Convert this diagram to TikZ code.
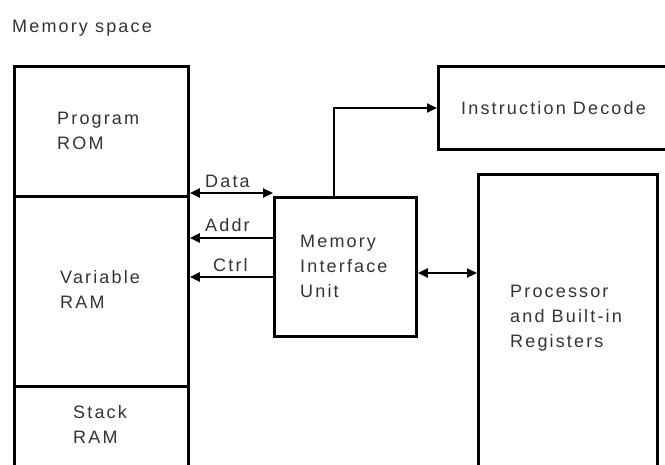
\documentclass[tikz,border=0pt]{standalone}
\usepackage{fontspec}
\setmainfont{Liberation Sans}[LetterSpace=12]
\usetikzlibrary{arrows.meta}
\definecolor{txt}{RGB}{50,50,55}
\tikzset{
  box/.style={draw=black, line width=2.8pt, fill=none, inner sep=0pt, anchor=north west},
  lbl/.style={text=txt, inner sep=0pt, align=left, anchor=west, font=\fontsize{18}{25}\selectfont},
  conn/.style={draw=black, line width=2.2pt, arrows={-Triangle[length=10pt,width=9pt]}},
  conn2/.style={draw=black, line width=2.2pt, arrows={Triangle[length=10pt,width=9pt]-Triangle[length=10pt,width=9pt]}}
}
\begin{document}
\begin{tikzpicture}[x=1pt,y=-1pt]
\useasboundingbox (0,0) rectangle (665,464);
\clip (0,0) rectangle (665,464);
% memory column
\node[box, minimum width=174pt, minimum height=130pt] (rom) at (13,65) {};
\node[box, minimum width=174pt, minimum height=190pt] (var) at (13,195) {};
\node[box, minimum width=174pt, minimum height=120pt] (stk) at (13,385) {};
% memory interface unit
\node[box, minimum width=142pt, minimum height=139pt] (miu) at (273,196) {};
% instruction decode
\node[box, minimum width=260pt, minimum height=83pt] (id) at (437,65) {};
% processor
\node[box, minimum width=179pt, minimum height=320pt] (proc) at (477,173) {};
% labels
\node[lbl] (ms) at (12,28) {Memory space};
\node[lbl] (tr) at (57,130.5) {Program\\ROM};
\node[lbl] (tv) at (60,289.5) {Variable\\RAM};
\node[lbl] (ts) at (73,424.5) {Stack\\RAM};
\node[lbl] (tm) at (300,266) {Memory\\Interface\\Unit};
\node[lbl] (ti) at (461,108) {Instruction Decode};
\node[lbl] (tp) at (510,318) {Processor\\and Built-in\\Registers};
\node[lbl] (ld) at (205,181) {Data};
\node[lbl] (la) at (205,225) {Addr};
\node[lbl] (lc) at (213,265) {Ctrl};
% connectors
\draw[conn2] (rom.south east |- 0,193) -- (miu.west |- 0,193);
\draw[conn] (miu.west |- 0,238) -- (var.east |- 0,238);
\draw[conn] (miu.west |- 0,277) -- (var.east |- 0,277);
\draw[conn2] (miu.east |- 0,273) -- (proc.west |- 0,273);
\draw[conn] (miu.north -| 334,0) |- (id.west |- 0,108);
\end{tikzpicture}
\end{document}
